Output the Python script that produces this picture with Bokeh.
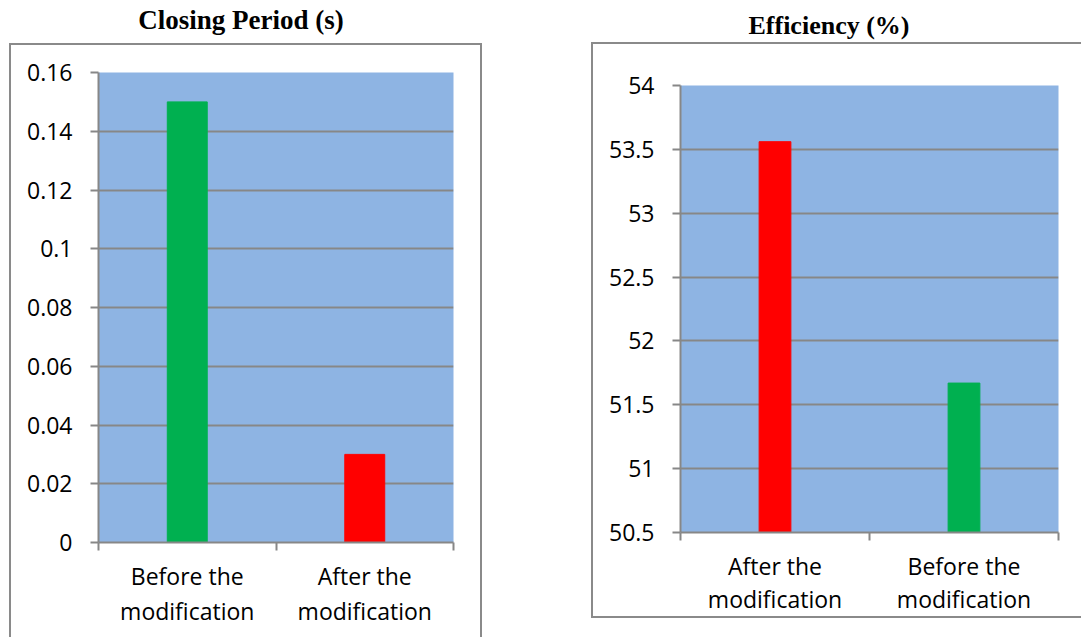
from bokeh.plotting import figure
from bokeh.models import Range1d, FixedTicker, Div
from bokeh.layouts import row, column
from bokeh.embed import file_html
from bokeh.resources import INLINE

# ---- data ----
left_title = "Closing Period (s)"
left_categories = ["Before the\nmodification", "After the\nmodification"]
left_values = [0.15, 0.03]
left_colors = ["#00B050", "#FF0000"]
left_ticks = [0, 0.02, 0.04, 0.06, 0.08, 0.1, 0.12, 0.14, 0.16]
left_tick_labels = ["0", "0.02", "0.04", "0.06", "0.08", "0.1", "0.12", "0.14", "0.16"]

right_title = "Efficiency (%)"
right_categories = ["After the\nmodification", "Before the\nmodification"]
right_values = [53.56, 51.67]
right_colors = ["#FF0000", "#00B050"]
right_ticks = [50.5, 51, 51.5, 52, 52.5, 53, 53.5, 54]
right_tick_labels = ["50.5", "51", "51.5", "52", "52.5", "53", "53.5", "54"]

BG = "#8EB4E3"
GRAY = "#878787"
FONT = "Open Sans"
BOX = "2px solid #8a8a8a"


def make_chart(cats, vals, colors, ticks, tick_labels, ymin, ymax,
               width, height, borders, bar_width, margin, standoff_x, line_h):
    n = len(cats)
    xs = [i + 0.5 for i in range(n)]
    p = figure(width=width, height=height, output_backend="svg",
               toolbar_location=None,
               x_range=Range1d(0, n), y_range=Range1d(ymin, ymax),
               min_border_left=borders[0], min_border_right=borders[1],
               min_border_top=borders[2], min_border_bottom=borders[3],
               margin=margin, styles={"border": BOX})
    p.background_fill_color = BG
    p.border_fill_color = "white"
    p.outline_line_color = None

    p.vbar(x=xs, top=vals, bottom=ymin, width=bar_width, color=colors)

    p.yaxis.ticker = FixedTicker(ticks=ticks, minor_ticks=[])
    p.yaxis.major_label_overrides = {t: l for t, l in zip(ticks, tick_labels)}
    p.yaxis.axis_line_color = GRAY
    p.yaxis.axis_line_width = 2
    p.yaxis.major_tick_line_color = GRAY
    p.yaxis.major_tick_line_width = 2
    p.yaxis.major_tick_out = 8
    p.yaxis.major_tick_in = 0
    p.yaxis.major_label_standoff = 18
    p.yaxis.major_label_text_font = FONT
    p.yaxis.major_label_text_font_size = "23px"
    p.yaxis.major_label_text_color = "black"

    p.xaxis.ticker = FixedTicker(ticks=xs, minor_ticks=list(range(n + 1)))
    p.xaxis.major_label_overrides = {x: c for x, c in zip(xs, cats)}
    p.xaxis.axis_line_color = GRAY
    p.xaxis.axis_line_width = 2
    p.xaxis.major_tick_line_color = None
    p.xaxis.major_tick_out = 0
    p.xaxis.major_tick_in = 0
    p.xaxis.minor_tick_line_color = GRAY
    p.xaxis.minor_tick_line_width = 2
    p.xaxis.minor_tick_out = 8
    p.xaxis.minor_tick_in = 0
    p.xaxis.major_label_standoff = standoff_x
    p.xaxis.major_label_text_font = FONT
    p.xaxis.major_label_text_font_size = "23px"
    p.xaxis.major_label_text_line_height = line_h
    p.xaxis.major_label_text_color = "black"

    p.xgrid.grid_line_color = None
    p.ygrid.grid_line_color = GRAY
    p.ygrid.grid_line_width = 2
    return p


def title_div(text, width, height, size, line_height, margin):
    return Div(text=text, width=width, height=height, margin=margin,
               styles={"font-family": "Liberation Serif", "font-weight": "bold",
                       "font-size": size, "text-align": "center",
                       "line-height": line_height, "color": "black"})


d1 = title_div(left_title, 482, 43, "27px", "41px", (0, 0, 0, 0))
p1 = make_chart(left_categories, left_values, left_colors,
                left_ticks, left_tick_labels, 0, 0.16,
                473, 596, (87, 31, 27, 99), 0.225, (0, 0, 0, 9), 9, 1.1)

d2 = title_div(right_title, 476, 42, "26px", "51px", (0, 0, 0, 109))
p2 = make_chart(right_categories, right_values, right_colors,
                right_ticks, right_tick_labels, 50.5, 54,
                495, 576, (87, 30, 41, 88), 0.168, (0, 0, 0, 109), 9, 1.04)

layout = row(column(d1, p1), column(d2, p2))
open("out.html", "w").write(file_html(layout, INLINE))
